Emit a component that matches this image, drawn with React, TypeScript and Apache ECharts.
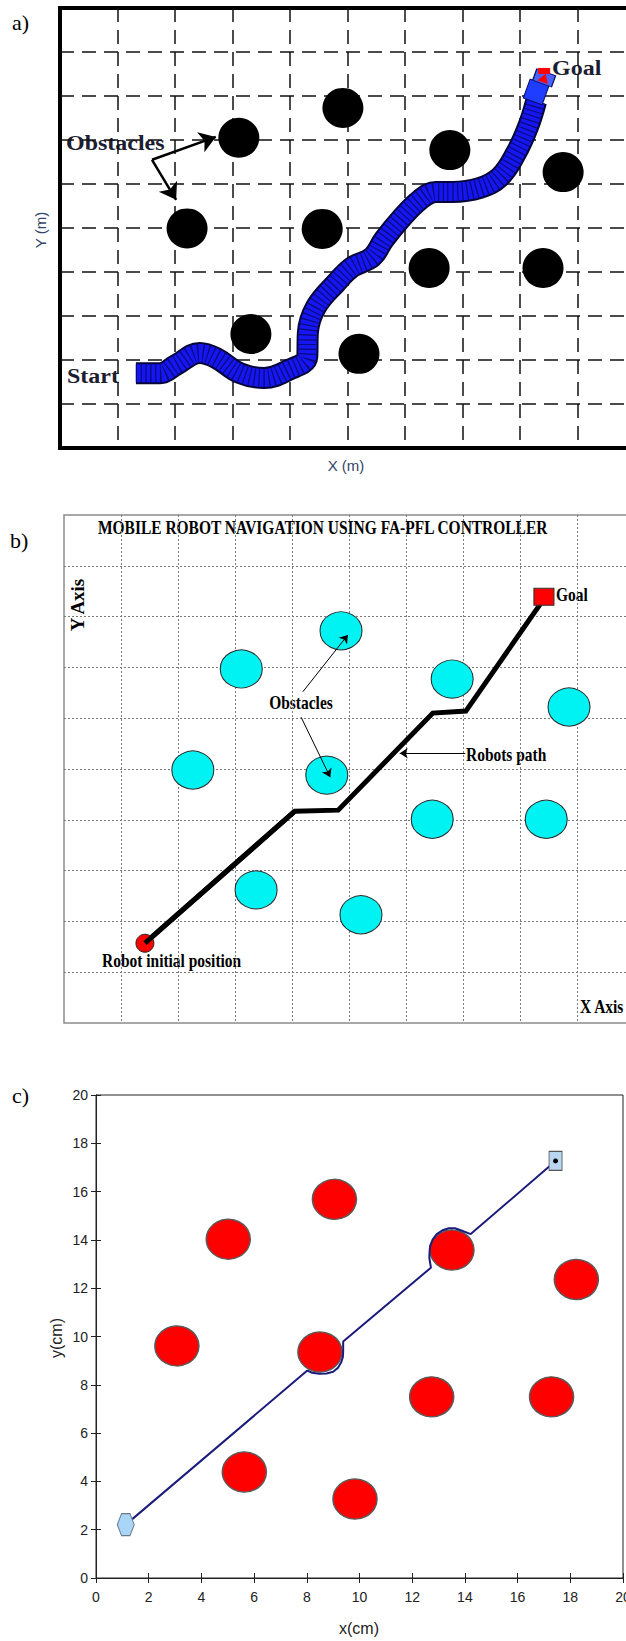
import React, { useEffect, useRef } from "react";
import * as echarts from "echarts";

// ---------- Panel a (fuzzy navigation, blue band path) ----------
const obstaclesA = [
  [3.11, 7.05], [4.92, 7.73], [6.78, 6.77], [8.75, 6.27], [2.21, 4.99],
  [4.56, 4.98], [6.42, 4.09], [8.4, 4.09], [3.32, 2.59], [5.2, 2.14],
];
const pathA = [
  [1.32, 1.7], [1.74, 1.7], [2.02, 1.89], [2.43, 2.16], [2.71, 2.05], [3.13, 1.7],
  [3.55, 1.59], [3.97, 1.77], [4.3, 2.07], [4.31, 2.61], [4.45, 3.2], [4.8, 3.75],
  [5.08, 4.11], [5.43, 4.34], [5.63, 4.73], [5.91, 5.18], [6.26, 5.64], [6.54, 5.82],
  [6.82, 5.82], [7.3, 5.91], [7.65, 6.16], [7.93, 6.7], [8.14, 7.3], [8.28, 7.88],
];
const goalBoxA = [8.28, 8.09];
const goalTopA = [8.42, 8.41];
const goalFlagA = [8.42, 8.57];
const arrowsA = [
  [[1.6, 6.55], [2.71, 7.07]],
  [[1.6, 6.55], [2.02, 5.64]],
];

// ---------- Panel b (FA-PFL controller) ----------
const obstaclesB = [
  [4.86, 7.72], [3.11, 6.97], [6.81, 6.77], [8.86, 6.22], [2.26, 4.98],
  [4.61, 4.88], [6.46, 4.01], [8.46, 4.01], [3.37, 2.62], [5.21, 2.13],
];
const pathB = [
  [1.42, 1.57], [4.05, 4.17], [4.81, 4.19], [6.47, 6.1], [7.05, 6.14], [8.37, 8.27],
];
const startB = [1.42, 1.57];
const goalB = [8.42, 8.39];
const arrowsB = [
  [[4.19, 6.52], [4.98, 7.64]],
  [[4.16, 6.02], [4.67, 4.84]],
  [[7.04, 5.31], [5.89, 5.31]],
];

// ---------- Panel c (x/y in cm) ----------
const ticksC = [0, 2, 4, 6, 8, 10, 12, 14, 16, 18, 20];
const obstaclesC = [
  [9.05, 15.68], [5.02, 14.03], [13.51, 13.58], [18.23, 12.36], [3.07, 9.61],
  [8.5, 9.36], [12.74, 7.5], [17.29, 7.5], [5.63, 4.39], [9.83, 3.27],
];
const pathC = [
  [1.13, 2.21], [8.02, 8.59], [8.2, 8.5], [8.47, 8.46], [8.75, 8.47], [9.0, 8.54],
  [9.18, 8.7], [9.3, 8.92], [9.37, 9.15], [9.38, 9.41], [9.38, 9.79], [12.71, 12.85],
  [12.65, 13.26], [12.66, 13.52], [12.68, 13.75], [12.78, 14.02], [12.93, 14.24],
  [13.15, 14.4], [13.39, 14.48], [13.62, 14.48], [13.84, 14.4], [14.22, 14.24],
  [17.32, 17.15],
];
const startC = [1.13, 2.21];
const goalC = [17.44, 17.27];

const HEX = "path://M-1,0 L-0.5,-0.87 L0.5,-0.87 L1,0 L0.5,0.87 L-0.5,0.87 Z";

export default function App() {
  const ref = useRef<HTMLDivElement>(null);

  useEffect(() => {
    if (!ref.current) return;
    const chart = echarts.init(ref.current, undefined, { renderer: "svg" });

    const hiddenAxis = (gridIndex: number, min: number, max: number, split: any) => ({
      type: "value",
      gridIndex,
      min,
      max,
      interval: 1,
      axisLine: { show: false },
      axisTick: { show: false },
      axisLabel: { show: false },
      splitLine: split,
    });
    const dashedA = {
      show: true,
      showMinLine: false,
      showMaxLine: false,
      lineStyle: { color: "#111", width: 1.5, type: [14, 8] },
    };
    const dottedB = {
      show: true,
      showMinLine: false,
      showMaxLine: false,
      lineStyle: { color: "#7a7a7a", width: 1, type: [2, 2] },
    };
    const axC = (gridIndex: number, position: string, labels: boolean) => ({
      type: "value",
      gridIndex,
      position,
      min: 0,
      max: 20,
      interval: 2,
      axisLine: { show: true, lineStyle: { color: "#222", width: 1 } },
      axisTick: { show: true, inside: true, length: 5, lineStyle: { color: "#222" } },
      axisLabel: {
        show: labels,
        fontFamily: "Liberation Sans, Arial, sans-serif",
        fontSize: 14,
        color: "#222",
        margin: position === "bottom" ? 12 : 8,
        hideOverlap: false,
        formatter: (v: number) => (ticksC.includes(v) ? String(v) : ""),
      },
      splitLine: { show: false },
    });

    const serifB = (text: string, x: number, y: number, align = "left", extra: any = {}) => ({
      type: "text",
      x,
      y,
      scaleX: 0.86,
      style: {
        text,
        font: 'bold 18px "Liberation Serif", "Times New Roman", serif',
        fill: "#000",
        align,
        verticalAlign: "middle",
      },
      ...extra,
    });
    const serifA = (text: string, x: number, y: number) => ({
      type: "text",
      x,
      y,
      scaleX: 1.2,
      style: {
        text,
        font: 'bold 20px "Liberation Serif", "Times New Roman", serif',
        fill: "#1b2030",
        align: "left",
        verticalAlign: "middle",
      },
    });
    const panelLabel = (text: string, x: number, y: number) => ({
      type: "text",
      x,
      y,
      style: {
        text,
        font: '22px "Liberation Serif", "Times New Roman", serif',
        fill: "#000",
        align: "left",
        verticalAlign: "middle",
      },
    });

    const grid = (left: number, top: number, width: number, height: number, borderColor: string, borderWidth: number) => ({
      left, top, width, height, show: true, borderColor, borderWidth,
      containLabel: false, outerBoundsMode: "none",
    });

    const option: any = {
      animation: false,
      backgroundColor: "#fff",
      grid: [
        grid(60, 8, 575, 440, "#000", 4),
        grid(64, 515, 570, 508, "#8c8c8c", 1.5),
        grid(96, 1095, 527, 483, "#222", 1),
      ],
      xAxis: [
        hiddenAxis(0, 0, 10, dashedA),
        hiddenAxis(1, 0, 10, dottedB),
        axC(2, "bottom", true),
        axC(2, "top", false),
      ],
      yAxis: [
        hiddenAxis(0, 0, 10, dashedA),
        hiddenAxis(1, 0, 10, dottedB),
        axC(2, "left", true),
        axC(2, "right", false),
      ],
      series: [
        // ----- panel a -----
        {
          type: "scatter", xAxisIndex: 0, yAxisIndex: 0, data: obstaclesA,
          symbol: "circle", symbolSize: [41, 40], itemStyle: { color: "#000", opacity: 1 }, z: 2,
        },
        {
          type: "line", xAxisIndex: 0, yAxisIndex: 0, data: pathA, smooth: 0.4,
          showSymbol: false, symbol: "none",
          lineStyle: { color: "#06063a", width: 22, cap: "butt", join: "round" }, z: 3,
        },
        {
          type: "line", xAxisIndex: 0, yAxisIndex: 0, data: pathA, smooth: 0.4,
          showSymbol: false, symbol: "none",
          lineStyle: { color: "#1616f2", width: 18, cap: "butt", join: "round" }, z: 4,
        },
        {
          type: "line", xAxisIndex: 0, yAxisIndex: 0, data: pathA, smooth: 0.4,
          showSymbol: false, symbol: "none",
          lineStyle: { color: "#0a0a78", width: 18, cap: "butt", join: "round", type: [1.2, 3.6] }, z: 5,
        },
        {
          type: "scatter", xAxisIndex: 0, yAxisIndex: 0, data: [goalBoxA], symbol: "rect",
          symbolSize: [20, 20], symbolRotate: -20,
          itemStyle: { color: "#1f3dff", borderColor: "#0a0a60", borderWidth: 1, opacity: 1 }, z: 6,
        },
        {
          type: "scatter", xAxisIndex: 0, yAxisIndex: 0, data: [goalTopA], symbol: "rect",
          symbolSize: [20, 12], symbolRotate: -20,
          itemStyle: { color: "#4a63ff", borderColor: "#0a0a60", borderWidth: 1, opacity: 1 }, z: 6,
        },
        {
          type: "scatter", xAxisIndex: 0, yAxisIndex: 0, data: [goalTopA], symbol: "triangle",
          symbolSize: [11, 9], symbolRotate: -20, itemStyle: { color: "#f00", opacity: 1 }, z: 7,
        },
        {
          type: "scatter", xAxisIndex: 0, yAxisIndex: 0, data: [goalFlagA], symbol: "rect",
          symbolSize: [12, 6], itemStyle: { color: "#f00", opacity: 1 }, z: 7,
        },
        {
          type: "lines", coordinateSystem: "cartesian2d", xAxisIndex: 0, yAxisIndex: 0,
          data: arrowsA.map((c) => ({ coords: c })),
          symbol: ["none", "arrow"], symbolSize: 16,
          lineStyle: { color: "#000", width: 2.5, opacity: 1 }, z: 8,
        },
        // ----- panel b -----
        {
          type: "scatter", xAxisIndex: 1, yAxisIndex: 1, data: obstaclesB,
          symbol: "circle", symbolSize: [42, 38],
          itemStyle: { color: "#00f3f3", borderColor: "#2a2a2a", borderWidth: 1, opacity: 1 }, z: 2,
        },
        {
          type: "line", xAxisIndex: 1, yAxisIndex: 1, data: pathB, showSymbol: false, symbol: "none",
          lineStyle: { color: "#000", width: 5, join: "miter" }, z: 3,
        },
        {
          type: "scatter", xAxisIndex: 1, yAxisIndex: 1, data: [startB], symbol: "circle",
          symbolSize: 18, itemStyle: { color: "#f00", borderColor: "#222", borderWidth: 1, opacity: 1 }, z: 4,
        },
        {
          type: "line", xAxisIndex: 1, yAxisIndex: 1, data: pathB.slice(0, 2), showSymbol: false,
          symbol: "none", lineStyle: { color: "#000", width: 5 }, z: 5,
        },
        {
          type: "scatter", xAxisIndex: 1, yAxisIndex: 1, data: [goalB], symbol: "rect",
          symbolSize: [20, 17], itemStyle: { color: "#f00", borderColor: "#333", borderWidth: 1, opacity: 1 }, z: 4,
        },
        {
          type: "lines", coordinateSystem: "cartesian2d", xAxisIndex: 1, yAxisIndex: 1,
          data: arrowsB.map((c) => ({ coords: c })),
          symbol: ["none", "arrow"], symbolSize: 8,
          lineStyle: { color: "#000", width: 1, opacity: 1 }, z: 8,
        },
        // ----- panel c -----
        {
          type: "scatter", xAxisIndex: 2, yAxisIndex: 2, data: obstaclesC,
          symbol: "circle", symbolSize: [44, 40],
          itemStyle: { color: "#ff0000", borderColor: "#5a5a5a", borderWidth: 1.5, opacity: 1 }, z: 2,
        },
        {
          type: "line", xAxisIndex: 2, yAxisIndex: 2, data: pathC, showSymbol: false, symbol: "none",
          lineStyle: { color: "#1b1b7c", width: 2 }, z: 3,
        },
        {
          type: "scatter", xAxisIndex: 2, yAxisIndex: 2, data: [startC], symbol: HEX,
          symbolSize: [17, 22], itemStyle: { color: "#a9d6f8", borderColor: "#6a7a88", borderWidth: 1, opacity: 1 }, z: 4,
        },
        {
          type: "scatter", xAxisIndex: 2, yAxisIndex: 2, data: [goalC], symbol: "rect",
          symbolSize: [13, 19], itemStyle: { color: "#b9d5ef", borderColor: "#555", borderWidth: 1, opacity: 1 }, z: 4,
        },
        {
          type: "scatter", xAxisIndex: 2, yAxisIndex: 2, data: [goalC], symbol: "circle",
          symbolSize: 5, itemStyle: { color: "#000", opacity: 1 }, z: 5,
        },
      ],
      graphic: [
        panelLabel("a)", 12, 22),
        panelLabel("b)", 10, 540),
        panelLabel("c)", 12, 1095),
        // panel a texts
        serifA("Obstacles", 66, 143),
        serifA("Start", 67, 376),
        serifA("Goal", 552, 68),
        {
          type: "text", x: 40, y: 230, rotation: Math.PI / 2,
          style: { text: "Y (m)", font: '15px "Liberation Sans", Arial, sans-serif', fill: "#34466a", align: "center", verticalAlign: "middle" },
        },
        {
          type: "text", x: 346, y: 465,
          style: { text: "X (m)", font: '15px "Liberation Sans", Arial, sans-serif', fill: "#34466a", align: "center", verticalAlign: "middle" },
        },
        // panel b texts
        serifB("MOBILE ROBOT NAVIGATION USING FA-PFL CONTROLLER", 98, 528),
        serifB("Goal", 556, 595),
        serifB("Obstacles", 301, 703, "center"),
        serifB("Robots path", 466, 755),
        serifB("Robot initial position", 102, 961),
        serifB("X Axis", 580, 1007),
        {
          type: "text", x: 78, y: 605, rotation: Math.PI / 2, scaleX: 1.05,
          style: { text: "Y Axis", font: 'bold 18px "Liberation Serif", "Times New Roman", serif', fill: "#000", align: "center", verticalAlign: "middle" },
        },
        // panel c texts
        {
          type: "text", x: 56, y: 1338, rotation: Math.PI / 2,
          style: { text: "y(cm)", font: '16px "Liberation Sans", Arial, sans-serif', fill: "#222", align: "center", verticalAlign: "middle" },
        },
        {
          type: "text", x: 359, y: 1628,
          style: { text: "x(cm)", font: '16px "Liberation Sans", Arial, sans-serif', fill: "#222", align: "center", verticalAlign: "middle" },
        },
      ],
    };

    chart.setOption(option);
    return () => chart.dispose();
  }, []);

  return (
    <div
      ref={ref}
      style={{ position: "absolute", left: 0, top: 0, width: 626, height: 1641, background: "#fff" }}
    />
  );
}
